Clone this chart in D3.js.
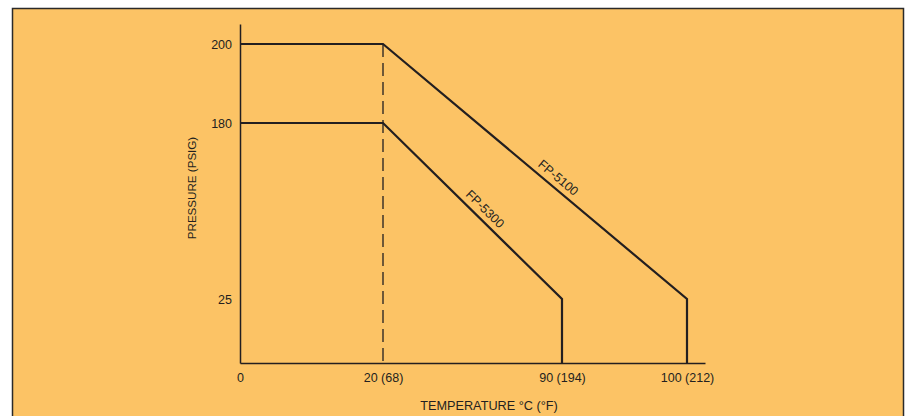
<!DOCTYPE html>
<html>
<head>
<meta charset="utf-8">
<script src="https://cdn.jsdelivr.net/npm/d3@7"></script>
<style>
  body { margin: 0; background: #fff; }
  text { font-family: "Liberation Sans", Arial, Helvetica, sans-serif; fill: #231f20; }
</style>
</head>
<body>
<div class="chart"></div>
<script>
// data
var tempTicks = [0, 20, 90, 100];
var tempLabels = ["0", "20 (68)", "90 (194)", "100 (212)"];
var pressureTicks = [200, 180, 25];
var fp5100Temp = [0, 20, 100, 100];
var fp5100Psi = [200, 200, 25, 0];
var fp5300Temp = [0, 20, 90, 90];
var fp5300Psi = [180, 180, 25, 0];

var svgWidth = 905;
var svgHeight = 416;
var ink = "#231f20";

var svg = d3.select(".chart")
  .append("svg")
  .attr("width", svgWidth)
  .attr("height", svgHeight);

// panel
svg.append("rect")
  .attr("x", 12.5).attr("y", 8.5)
  .attr("width", 891).attr("height", 420)
  .attr("fill", "#fcc365")
  .attr("stroke", "#2b2a29")
  .attr("stroke-width", 1.5);

// scales are piecewise, the original axes are not to scale
var x = d3.scaleLinear()
  .domain([0, 20, 90, 100, 107])
  .range([240, 383, 562, 687, 705]);
var y = d3.scaleLinear()
  .domain([0, 25, 180, 200, 206])
  .range([363, 299, 123, 44, 24]);

var xAxis = d3.axisBottom(x)
  .tickValues(tempTicks)
  .tickSize(0)
  .tickSizeOuter(0)
  .tickPadding(9)
  .tickFormat(function(d, i) { return tempLabels[i]; });

var yAxis = d3.axisLeft(y)
  .tickValues(pressureTicks)
  .tickSize(0)
  .tickSizeOuter(0)
  .tickPadding(8);

var gx = svg.append("g")
  .attr("transform", "translate(0," + y(0) + ")")
  .call(xAxis);
var gy = svg.append("g")
  .attr("transform", "translate(" + x(0) + ",0)")
  .call(yAxis);

[gx, gy].forEach(function(g) {
  g.select(".domain").attr("stroke", ink).attr("stroke-width", 1.5);
  g.selectAll(".tick text")
    .attr("font-size", 12.5)
    .attr("font-family", "Liberation Sans, Arial, sans-serif")
    .attr("fill", ink);
});
gx.selectAll(".tick text").attr("dy", "0.8em");

// dashed reference line at 20 C
svg.append("line")
  .attr("x1", x(20)).attr("x2", x(20))
  .attr("y1", y(200)).attr("y2", y(0))
  .attr("stroke", ink)
  .attr("stroke-width", 1.3)
  .attr("stroke-dasharray", "13,6");

var line = d3.line()
  .x(function(d) { return x(d[0]); })
  .y(function(d) { return y(d[1]); });

var series = [
  { name: "FP-5100", pts: d3.zip(fp5100Temp, fp5100Psi) },
  { name: "FP-5300", pts: d3.zip(fp5300Temp, fp5300Psi) }
];

svg.selectAll("path.series")
  .data(series)
  .enter()
  .append("path")
  .attr("class", "series")
  .attr("d", function(d) { return line(d.pts); })
  .attr("fill", "none")
  .attr("stroke", ink)
  .attr("stroke-width", 2.2)
  .attr("stroke-linejoin", "miter");

// labels along the sloped part
series.forEach(function(s, i) {
  var p1 = s.pts[1], p2 = s.pts[2];
  var x1 = x(p1[0]), y1 = y(p1[1]), x2 = x(p2[0]), y2 = y(p2[1]);
  var ang = Math.atan2(y2 - y1, x2 - x1) * 180 / Math.PI;
  var t = i == 0 ? 0.555 : 0.53;
  var cx = x1 + (x2 - x1) * t, cy = y1 + (y2 - y1) * t;
  svg.append("text")
    .attr("transform", "translate(" + cx + "," + cy + ") rotate(" + ang + ")")
    .attr("text-anchor", "middle")
    .attr("dy", -6)
    .attr("font-size", 12.5)
    .text(s.name);
});

// axis titles
svg.append("text")
  .attr("x", 489).attr("y", 410)
  .attr("text-anchor", "middle")
  .attr("font-size", 12.7)
  .text("TEMPERATURE \u00b0C (\u00b0F)");

svg.append("text")
  .attr("transform", "translate(195.5,188) rotate(-90)")
  .attr("text-anchor", "middle")
  .attr("font-size", 11.6)
  .text("PRESSURE (PSIG)");
</script>
</body>
</html>
